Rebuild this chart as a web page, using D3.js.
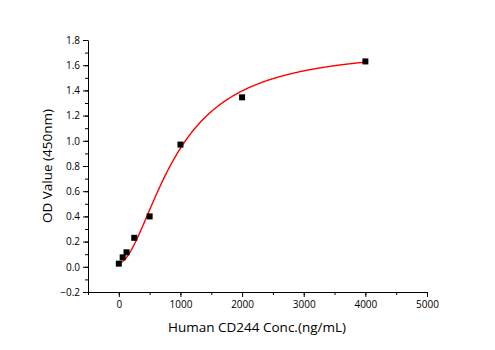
<!DOCTYPE html>
<html><head><meta charset="utf-8">
<script src="https://cdn.jsdelivr.net/npm/d3@7"></script>
<style>body{margin:0;background:#fff}svg{display:block}text{font-family:"Open Sans","Liberation Sans",sans-serif}</style>
</head><body><svg id="c" width="495" height="350"></svg>
<script>
const concentrations = [0, 62.5, 125, 250, 500, 1000, 2000, 4000];
const odValues = [0.025, 0.075, 0.115, 0.23, 0.40, 0.97, 1.345, 1.63];
// 4-parameter logistic fit: [bottom, slope, midpoint, top]
const fitParams = [0.03, 1.8, 930, 1.74];
const xTicks = [0, 1000, 2000, 3000, 4000, 5000];
const yTicks = [-0.2, 0.0, 0.2, 0.4, 0.6, 0.8, 1.0, 1.2, 1.4, 1.6, 1.8];
const xTitle = "Human CD244 Conc.(ng/mL)";
const yTitle = "OD Value (450nm)";

const svg = d3.select("#c");
const x = d3.scaleLinear().domain([-500, 5000]).range([88, 427]);
const y = d3.scaleLinear().domain([-0.2, 1.8]).range([292, 40]);

// minor ticks
const xMinor = d3.range(-500, 5001, 500);
const yMinor = d3.range(-0.2, 1.801, 0.1);
svg.append("g").attr("transform","translate(0,292)")
  .call(d3.axisBottom(x).tickValues(xMinor).tickSize(3).tickFormat(""))
  .call(g=>g.select(".domain").remove());
svg.append("g").attr("transform","translate(88,0)")
  .call(d3.axisLeft(y).tickValues(yMinor).tickSize(3).tickFormat(""))
  .call(g=>g.select(".domain").remove());

const xa = svg.append("g").attr("transform","translate(0,292)")
  .call(d3.axisBottom(x).tickValues(xTicks).tickSize(5).tickSizeOuter(0).tickPadding(4).tickFormat(d3.format("d")));
const ya = svg.append("g").attr("transform","translate(88,0)")
  .call(d3.axisLeft(y).tickValues(yTicks).tickSize(5).tickSizeOuter(0).tickPadding(3).tickFormat(d3.format(".1f")));
svg.selectAll(".tick text").attr("font-size", 10).attr("fill","#000").attr("font-family","Open Sans, Liberation Sans, sans-serif");
svg.selectAll(".domain, .tick line").attr("stroke","#000");

// fitted curve
const [A,B,C,D] = fitParams;
const f = v => D + (A - D) / (1 + Math.pow(v / C, B));
const curveX = d3.range(0, 4001, 10);
svg.append("path").datum(curveX)
  .attr("fill","none").attr("stroke","#ff0000").attr("stroke-width",1.4)
  .attr("d", d3.line().x(d=>x(d)).y(d=>y(f(d))));

// points
svg.append("g").selectAll("rect").data(concentrations).join("rect")
  .attr("x",(d)=>x(d)-3).attr("y",(d,i)=>y(odValues[i])-3)
  .attr("width",6).attr("height",6).attr("fill","#000");

svg.append("text").attr("x",257).attr("y",332).attr("text-anchor","middle")
  .attr("font-size",13.5).text(xTitle);
svg.append("text").attr("transform","translate(52,166) rotate(-90)").attr("text-anchor","middle")
  .attr("font-size",13.5).text(yTitle);
</script></body></html>
